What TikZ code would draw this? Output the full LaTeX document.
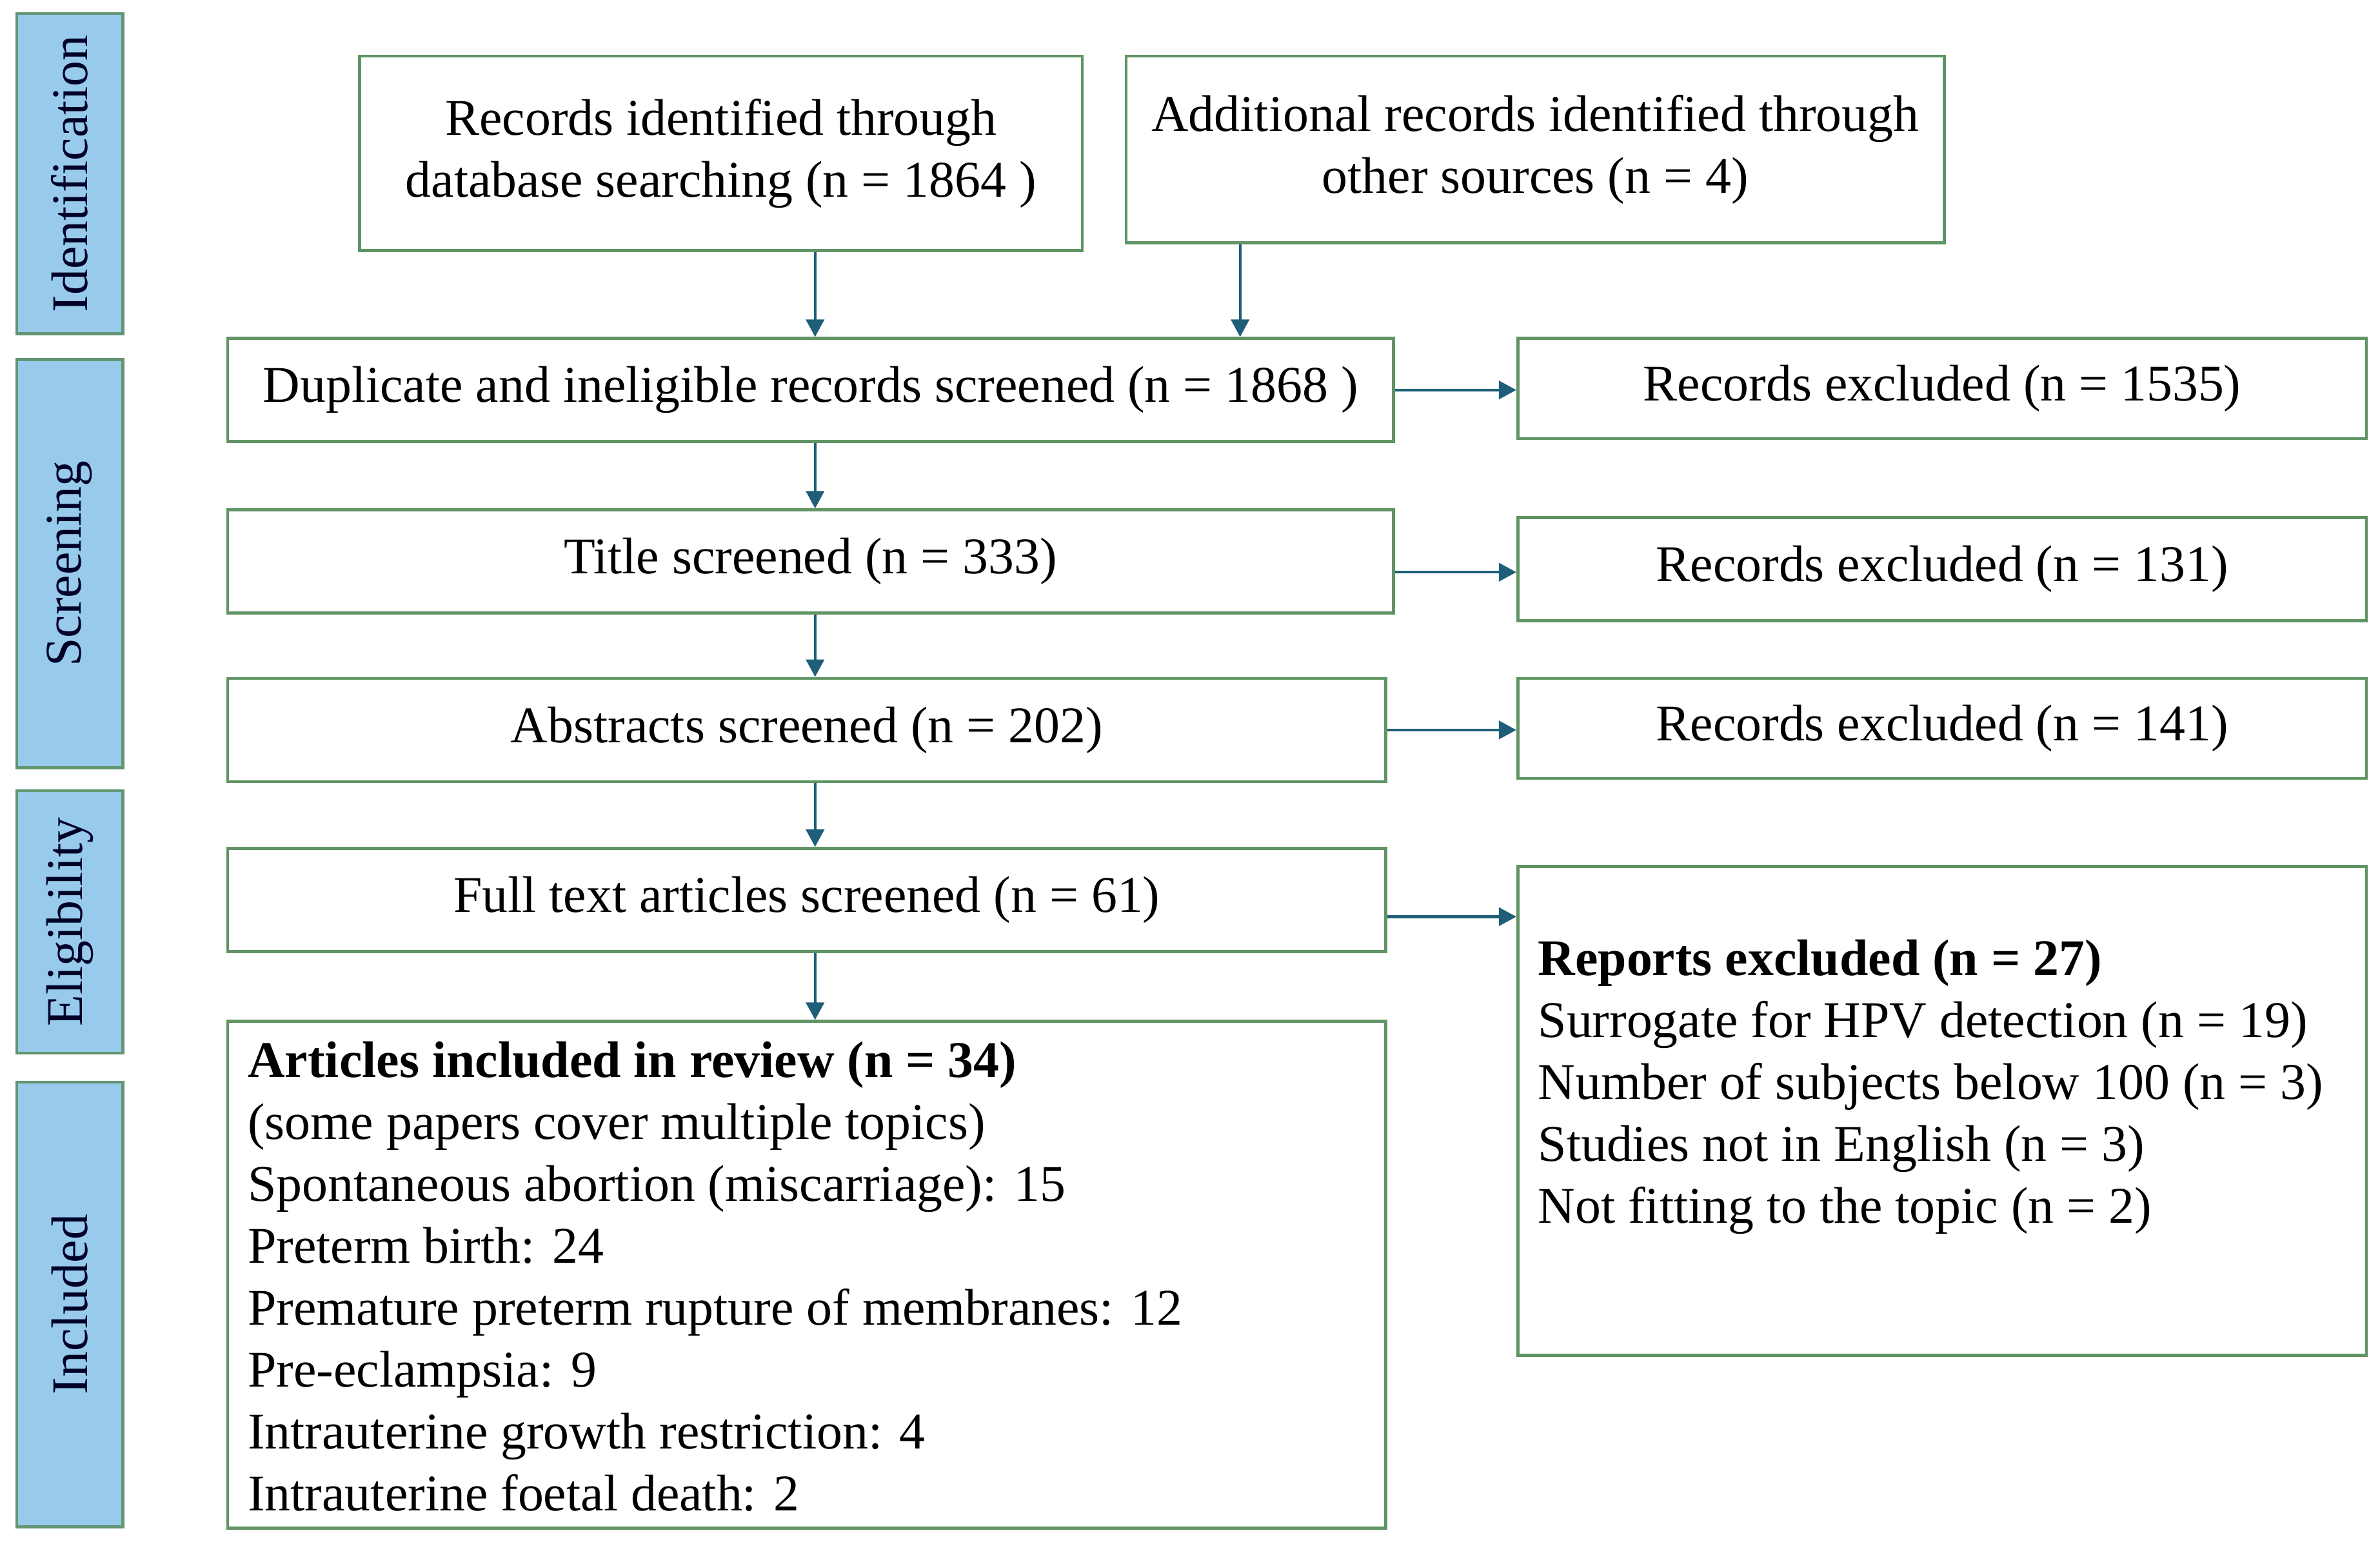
\documentclass[tikz,border=0pt]{standalone}
\usepackage{fontspec}
\setmainfont{Liberation Serif}
\usetikzlibrary{arrows.meta}
\definecolor{boxgreen}{RGB}{96,148,100}
\definecolor{phasefill}{RGB}{152,202,236}
\definecolor{phaseline}{RGB}{98,150,115}
\definecolor{arrowcol}{RGB}{30,94,120}
\def\un{0.023533cm}
\newcommand\bx[7]{\node[#6,minimum width={(#4-#2)*\un},minimum height={(#5-#3)*\un},anchor=north west] (#1) at (#2,#3) {#7};}
\tikzset{
  flowbox/.style={draw=boxgreen,line width=1.3pt,fill=white,inner sep=0pt,align=center,
    font=\fontsize{22.7}{27.3}\selectfont},
  phasebox/.style={draw=phaseline,line width=1.3pt,fill=phasefill,inner sep=0pt},
  phaselabel/.style={rotate=90,font=\fontsize{22.7}{27.3}\selectfont,text=black!85!blue},
  listtext/.style={align=left,inner sep=0pt,font=\fontsize{22.7}{27.3}\selectfont},
  arr/.style={draw=arrowcol,line width=1.2pt,-{Triangle[length=0.27cm,width=0.28cm]}}
}
\begin{document}
\begin{tikzpicture}[x=\un,y=-\un]
\useasboundingbox (0,0) rectangle (1568,1016);
% phase boxes
\bx{pid}{10}{8}{80}{219}{phasebox}{}
\bx{psc}{10}{236}{80}{505}{phasebox}{}
\bx{pel}{10}{520}{80}{693}{phasebox}{}
\bx{pin}{10}{712}{80}{1005}{phasebox}{}
\node[phaselabel] (lid) at (pid.center) {Identification};
\node[phaselabel] (lsc) at (psc.center) {Screening};
\node[phaselabel] (lel) at (pel.center) {Eligibility};
\node[phaselabel] (lin) at (pin.center) {Included};
% flow boxes
\bx{db}{236}{36}{712}{164}{flowbox}{Records identified through\\database searching (n = 1864 )}
\bx{add}{741}{36}{1280}{159}{flowbox}{Additional records identified through\\other sources (n = 4)}
\bx{dup}{149}{222}{917}{290}{flowbox}{Duplicate and ineligible records screened (n = 1868 )}
\bx{ex1}{999}{222}{1558}{288}{flowbox}{Records excluded (n = 1535)}
\bx{tit}{149}{335}{917}{403}{flowbox}{Title screened (n = 333)}
\bx{ex2}{999}{340}{1558}{408}{flowbox}{Records excluded (n = 131)}
\bx{abs}{149}{446}{912}{514}{flowbox}{Abstracts screened (n = 202)}
\bx{ex3}{999}{446}{1558}{512}{flowbox}{Records excluded (n = 141)}
\bx{ft}{149}{558}{912}{626}{flowbox}{Full text articles screened (n = 61)}
\bx{rep}{999}{570}{1558}{892}{flowbox}{}
\bx{inc}{149}{672}{912}{1006}{flowbox}{}
\node[listtext,anchor=north west] (reptext) at (1013,619) {\textbf{Reports excluded (n = 27)}\\
Surrogate for HPV detection (n = 19)\\
Number of subjects below 100 (n = 3)\\
Studies not in English (n = 3)\\
Not fitting to the topic (n = 2)};
\node[listtext,anchor=west] (inctext) at (163,841) {\textbf{Articles included in review (n = 34)}\\
(some papers cover multiple topics)\\
Spontaneous abortion (miscarriage): 15\\
Preterm birth: 24\\
Premature preterm rupture of membranes: 12\\
Pre-eclampsia: 9\\
Intrauterine growth restriction: 4\\
Intrauterine foetal death: 2};
% connectors
\coordinate (colx) at (537,0);
\coordinate (colx2) at (817,0);
\coordinate (row2) at (0,377);
\coordinate (row4) at (0,604);
\draw[arr] (db.south -| colx) -- (dup.north -| colx);
\draw[arr] (add.south -| colx2) -- (dup.north -| colx2);
\draw[arr] (dup.south -| colx) -- (tit.north -| colx);
\draw[arr] (tit.south -| colx) -- (abs.north -| colx);
\draw[arr] (abs.south -| colx) -- (ft.north -| colx);
\draw[arr] (ft.south -| colx) -- (inc.north -| colx);
\draw[arr] (dup.east) -- (dup.east -| ex1.west);
\draw[arr] (tit.east |- row2) -- (ex2.west |- row2);
\draw[arr] (abs.east) -- (abs.east -| ex3.west);
\draw[arr] (ft.east |- row4) -- (rep.west |- row4);
\end{tikzpicture}
\end{document}
